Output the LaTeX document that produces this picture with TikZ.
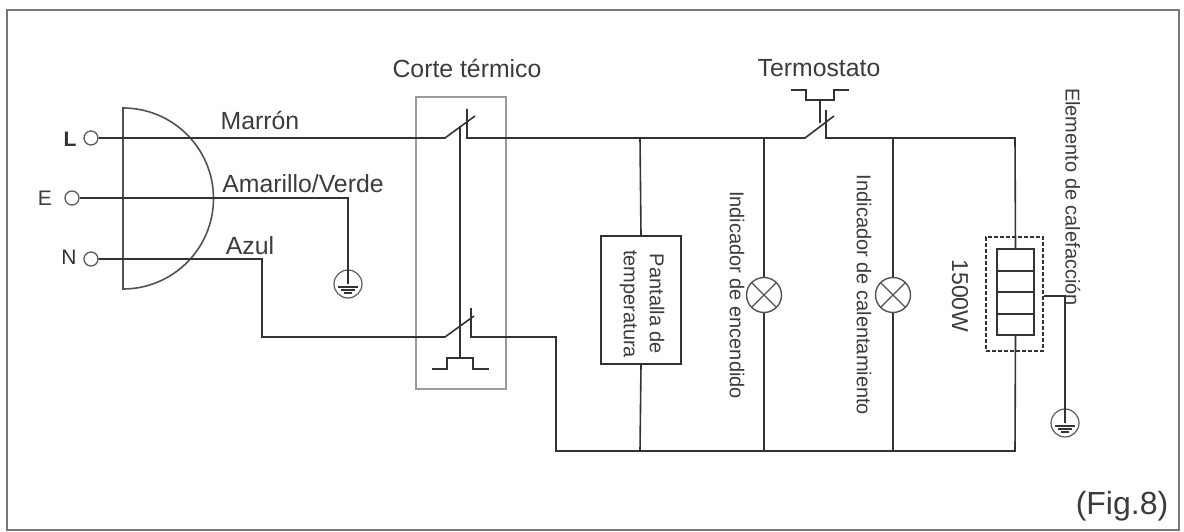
\documentclass[tikz,border=0pt]{standalone}
\usepackage{fontspec}
\setmainfont{Liberation Sans}
\definecolor{ink}{HTML}{333333}
\definecolor{txt}{HTML}{3C3C3C}
\definecolor{frameg}{HTML}{777777}
\definecolor{boxg}{HTML}{9A9A9A}
\usetikzlibrary{calc}
\tikzset{
  wire/.style={draw=ink,line width=1.6pt},
  thin wire/.style={draw=ink,line width=1.3pt},
  terminal/.style={circle,draw=ink!80,line width=1.3pt,minimum size=14pt,inner sep=0pt},
  lamp/.style={circle,draw=ink!85,line width=1.4pt,minimum size=35pt,inner sep=0pt,path picture={\draw[ink!85,line width=1.3pt] (path picture bounding box.north west)++(5pt,-5pt) -- ($(path picture bounding box.south east)+(-5pt,5pt)$) (path picture bounding box.north east)++(-5pt,-5pt) -- ($(path picture bounding box.south west)+(5pt,5pt)$);}},
  earth/.style={circle,draw=ink!80,line width=1.2pt,minimum size=28pt,inner sep=0pt},
  lbl/.style={text=txt,inner sep=0pt,font=\fontsize{24.8}{28}\selectfont},
  vlbl/.style={text=txt,inner sep=0pt,rotate=-90,font=\fontsize{20}{26}\selectfont,align=center},
}
\newcommand{\earthbars}[1]{%
  \draw[thin wire] ($(#1.center)+(-10,3)$) -- ($(#1.center)+(10,3)$);
  \draw[thin wire] ($(#1.center)+(-7,6)$) -- ($(#1.center)+(7,6)$);
  \draw[thin wire] ($(#1.center)+(-4,9)$) -- ($(#1.center)+(4,9)$);}
\begin{document}
\begin{tikzpicture}[x=1pt,y=-1pt]
\useasboundingbox (0,0) rectangle (1184,532);
\fill[white] (0,0) rectangle (1184,532);
\node[draw=frameg,line width=2.4pt,minimum width=1172pt,minimum height=520pt,inner sep=0pt,anchor=north west] (frame) at (6,9) {};
% plug
\draw[wire,draw=ink!85] (123,108) arc[start angle=-90,end angle=90,radius=90.5] -- cycle;
% terminals
\node[terminal] (tL) at (91,138) {};
\node[terminal] (tE) at (72,198) {};
\node[terminal] (tN) at (91,259) {};
\node[text=ink,font=\fontsize{21}{24}\selectfont\bfseries,inner sep=0pt] (lL) at (70,139) {L};
\node[text=txt,font=\fontsize{21}{24}\selectfont,inner sep=0pt] (lE) at (45,198) {E};
\node[text=ink,font=\fontsize{21}{24}\selectfont,inner sep=0pt] (lN) at (69,257) {N};
% coordinates
\coordinate (s1l) at (445,138);
\coordinate (s1t) at (475,116);
\coordinate (s1c) at (467,109);
\coordinate (s1b) at (467,138);
\coordinate (s2l) at (445,337);
\coordinate (s2t) at (474,316);
\coordinate (s2c) at (471,308);
\coordinate (s2b) at (471,337);
\coordinate (s3l) at (805,138);
\coordinate (s3t) at (834,116);
\coordinate (s3c) at (826,110);
\coordinate (s3b) at (826,138);
\coordinate (jP) at (640,138);
\coordinate (jA) at (764,138);
\coordinate (jB) at (893,138);
\coordinate (jH) at (1015,138);
\coordinate (bP) at (640,451);
\coordinate (bA) at (764,451);
\coordinate (bB) at (893,451);
\coordinate (bH) at (1015,451);
\coordinate (b0) at (556,451);
\coordinate (c0) at (556,337);
\coordinate (n1) at (262,259);
\coordinate (n2) at (262,337);
\coordinate (e1) at (348,198);
\coordinate (g1) at (1065,296);
\coordinate (m1) at (460,126);
\coordinate (m2) at (460,358);
\coordinate (h1) at (820,100);
\coordinate (h2) at (820,123);
% nodes
\node[draw=boxg,line width=1.8pt,minimum width=90pt,minimum height=292pt,inner sep=0pt] (cut) at (461,243) {};
\node[draw=ink,line width=1.6pt,minimum width=80pt,minimum height=128pt,inner sep=0pt] (pant) at (641,300) {};
\node[vlbl] (pantl) at (642,304) {Pantalla de\\temperatura};
\node[lamp] (lampA) at (764,295) {};
\node[lamp] (lampB) at (893,295) {};
\node[draw=ink,line width=1.3pt,dash pattern=on 4pt off 2pt,minimum width=57pt,minimum height=114pt,inner sep=0pt] (dash) at (1014.5,294) {};
\node[draw=ink,line width=1.5pt,minimum width=37pt,minimum height=86pt,inner sep=0pt] (heat) at (1015.5,292) {};
\draw[thin wire] (997,271) -- (1034,271) (997,292) -- (1034,292) (997,314) -- (1034,314);
\node[earth] (gnd1) at (348,284) {};
\node[earth] (gnd2) at (1065,423) {};
% wires
\draw[wire] (tL.east) -- (s1l) -- (s1t);
\draw[wire] (s1c) -- (s1b) -- (s3l) -- (s3t);
\draw[wire] (s3c) -- (s3b) -- (jH) -- (heat.north);
\draw[wire] (heat.south) -- (bH) -- (b0) -- (c0) -- (s2b) -- (s2c);
\draw[wire] (tN.east) -- (n1) -- (n2) -- (s2l) -- (s2t);
\draw[wire] (tE.east) -- (e1) -- (gnd1.center);
\draw[wire] (jP) -- (pant.north);
\draw[wire] (pant.south) -- (bP);
\draw[wire] (jA) -- (lampA.north);
\draw[wire] (lampA.south) -- (bA);
\draw[wire] (jB) -- (lampB.north);
\draw[wire] (lampB.south) -- (bB);
\draw[thin wire] (dash.east |- g1) -- (g1) -- (gnd2.center);
\draw[thin wire] (m1) -- (m2);
\draw[thin wire] (432,369) -- (447,369) -- (447,358) -- (473,358) -- (473,369) -- (489,369);
\draw[thin wire] (h1) -- (h2);
\draw[thin wire] (791,90) -- (806,90) -- (806,100) -- (834,100) -- (834,90) -- (849,90);
\earthbars{gnd1}
\earthbars{gnd2}
% labels
\node[lbl] (t1) at (260,120) {Marrón};
\node[lbl] (t2) at (303,184) {Amarillo/Verde};
\node[lbl] (t3) at (250,246) {Azul};
\node[lbl] (t4) at (467,68) {Corte térmico};
\node[lbl] (t5) at (819,68) {Termostato};
\node[vlbl] (t6) at (737,295) {Indicador de encendido};
\node[vlbl] (t7) at (864,295) {Indicador de calentamiento};
\node[vlbl,font=\fontsize{23}{26}\selectfont] (t8) at (960,296) {1500W};
\node[vlbl] (t9) at (1073,197) {Elemento de calefacción};
\node[lbl,font=\fontsize{32}{36}\selectfont] (t10) at (1122,506) {(Fig.8)};
\end{tikzpicture}
\end{document}
